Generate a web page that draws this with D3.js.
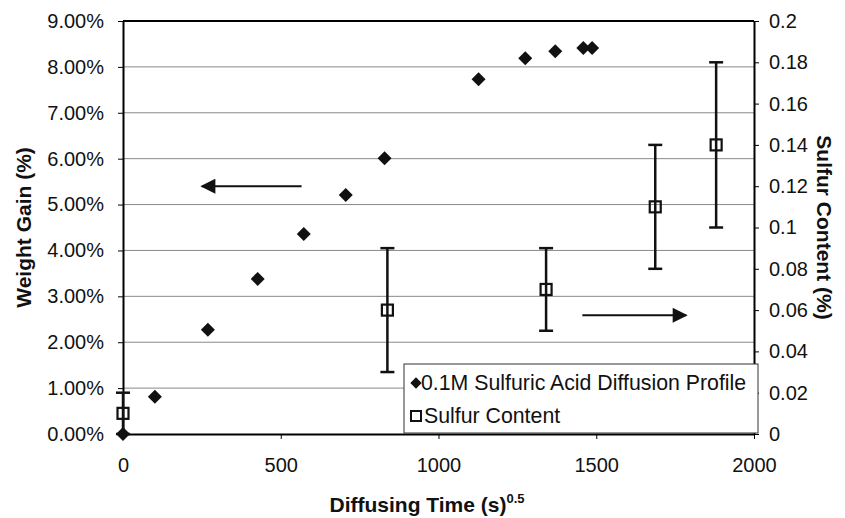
<!DOCTYPE html>
<html lang="en">
<head>
  <meta charset="UTF-8" />
  <title>Weight gain and sulfur content</title>
  <script src="https://cdn.jsdelivr.net/npm/d3@7"></script>
  <style type="text/css">
  body {
    margin: 0;
    background: #fff;
  }
  svg {
    display: block;
    font-family: "Liberation Sans", Arial, sans-serif;
  }
  .axis path.domain {
    stroke: #000;
    stroke-width: 2;
  }
  .axis .tick line {
    stroke: #000;
  }
  .axis text {
    font-size: 20px;
    fill: #111;
  }
  .grid line {
    stroke: #8a8a8a;
    stroke-width: 1;
  }
  .title {
    font-size: 21px;
    font-weight: bold;
    fill: #111;
  }
  </style>
</head>
<body>
<script type="text/javascript">

// diffusion profile (left axis, weight gain %)
var timeWeight = [0, 101, 269, 427, 573, 706, 829, 1127, 1275, 1370, 1459, 1487];
var weightGain = [0, 0.81, 2.27, 3.38, 4.36, 5.21, 6.01, 7.73, 8.19, 8.34, 8.41, 8.41];

// sulfur content (right axis) with error bars
var timeSulfur = [0, 838, 1341, 1687, 1880];
var sulfur     = [0.01, 0.06, 0.07, 0.11, 0.14];
var sulfurLow  = [0, 0.03, 0.05, 0.08, 0.10];
var sulfurHigh = [0.02, 0.09, 0.09, 0.14, 0.18];

var xTicks = [0, 500, 1000, 1500, 2000];
var leftTicks = [0, 1, 2, 3, 4, 5, 6, 7, 8, 9];
var rightTicks = [0, 0.02, 0.04, 0.06, 0.08, 0.1, 0.12, 0.14, 0.16, 0.18, 0.2];

var legendLabels = ["0.1M Sulfuric Acid Diffusion Profile", "Sulfur Content"];

var W = 845, H = 518;
var margin = {top: 21, right: 91, bottom: 84, left: 123};
var w = W - margin.left - margin.right,
    h = H - margin.top - margin.bottom;

var x = d3.scaleLinear().domain([0, 2000]).range([0, w]);
var yL = d3.scaleLinear().domain([0, 9]).range([h, 0]);
var yR = d3.scaleLinear().domain([0, 0.2]).range([h, 0]);

var svg = d3.select("body").append("svg")
    .attr("width", W)
    .attr("height", H);

var g = svg.append("g")
    .attr("transform", "translate(" + margin.left + "," + margin.top + ")");

// gridlines
g.append("g").attr("class", "grid")
  .selectAll("line")
  .data(leftTicks.slice(1))
  .enter().append("line")
    .attr("x1", 0).attr("x2", w)
    .attr("y1", d => yL(d)).attr("y2", d => yL(d));

// top border
g.append("line")
    .attr("x1", 0).attr("x2", w)
    .attr("y1", 0).attr("y2", 0)
    .attr("stroke", "#000").attr("stroke-width", 2);

// axes
g.append("g").attr("class", "axis")
    .attr("transform", "translate(0," + h + ")")
    .call(d3.axisBottom(x).tickValues(xTicks).tickSize(5).tickPadding(19).tickSizeOuter(0)
      .tickFormat(d3.format("d")))
  .selectAll("text").attr("dy", "0.71em");

g.append("g").attr("class", "axis")
    .call(d3.axisLeft(yL).tickValues(leftTicks).tickSize(5).tickPadding(14).tickSizeOuter(0)
      .tickFormat(d => d.toFixed(2) + "%"));

g.append("g").attr("class", "axis")
    .attr("transform", "translate(" + w + ",0)")
    .call(d3.axisRight(yR).tickValues(rightTicks).tickSize(5).tickPadding(10).tickSizeOuter(0)
      .tickFormat(d => String(+d.toFixed(2))));

// error bars
var errs = g.append("g").attr("stroke", "#111").attr("stroke-width", 2.5);
timeSulfur.forEach(function(t, i) {
  var cx = x(t);
  errs.append("line")
      .attr("x1", cx).attr("x2", cx)
      .attr("y1", yR(sulfurLow[i])).attr("y2", yR(sulfurHigh[i]));
  [sulfurLow[i], sulfurHigh[i]].forEach(function(v) {
    errs.append("line")
        .attr("x1", cx - 7).attr("x2", cx + 7)
        .attr("y1", yR(v)).attr("y2", yR(v));
  });
});

// sulfur squares
g.append("g").selectAll("rect")
  .data(sulfur)
  .enter().append("rect")
    .attr("x", (d, i) => x(timeSulfur[i]) - 5.5)
    .attr("y", d => yR(d) - 5.5)
    .attr("width", 11).attr("height", 11)
    .attr("fill", "none")
    .attr("stroke", "#111")
    .attr("stroke-width", 2.2);

// diamonds
var diamond = d3.symbol().type(d3.symbolSquare).size(98);
g.append("g").selectAll("path")
  .data(weightGain)
  .enter().append("path")
    .attr("d", diamond)
    .attr("transform", (d, i) => "translate(" + x(timeWeight[i]) + "," + yL(d) + ") rotate(45)")
    .attr("fill", "#111");

// arrows pointing at each axis
var defs = svg.append("defs");
defs.append("marker")
    .attr("id", "head")
    .attr("viewBox", "0 0 10 10")
    .attr("refX", 9).attr("refY", 5)
    .attr("markerWidth", 16).attr("markerHeight", 15)
    .attr("markerUnits", "userSpaceOnUse")
    .attr("orient", "auto")
  .append("path")
    .attr("d", "M0,0L10,5L0,10z")
    .attr("fill", "#111");

g.append("line")
    .attr("x1", x(566)).attr("x2", x(250))
    .attr("y1", yL(5.4)).attr("y2", yL(5.4))
    .attr("stroke", "#111").attr("stroke-width", 2)
    .attr("marker-end", "url(#head)");

g.append("line")
    .attr("x1", x(1456)).attr("x2", x(1785))
    .attr("y1", yR(0.0575)).attr("y2", yR(0.0575))
    .attr("stroke", "#111").attr("stroke-width", 2)
    .attr("marker-end", "url(#head)");

// legend
var lg = svg.append("g").attr("transform", "translate(404,364)");
lg.append("rect")
    .attr("width", 354).attr("height", 69)
    .attr("fill", "#fff")
    .attr("stroke", "#333").attr("stroke-width", 1);
lg.append("path")
    .attr("d", d3.symbol().type(d3.symbolSquare).size(64))
    .attr("transform", "translate(12,19) rotate(45)")
    .attr("fill", "#111");
lg.append("rect")
    .attr("x", 7).attr("y", 47).attr("width", 10).attr("height", 10)
    .attr("fill", "none").attr("stroke", "#111").attr("stroke-width", 2);
lg.selectAll("text.lbl")
  .data(legendLabels)
  .enter().append("text")
    .attr("class", "lbl")
    .attr("x", (d, i) => i === 0 ? 17 : 20)
    .attr("y", (d, i) => 26 + i * 33)
    .attr("font-size", 21.3)
    .attr("fill", "#111")
    .text(d => d);

// axis titles
svg.append("text").attr("class", "title")
    .attr("transform", "translate(31," + (margin.top + h / 2) + ") rotate(-90)")
    .attr("text-anchor", "middle")
    .text("Weight Gain (%)");

svg.append("text").attr("class", "title")
    .attr("transform", "translate(817," + (margin.top + h / 2) + ") rotate(90)")
    .attr("text-anchor", "middle")
    .text("Sulfur Content (%)");

var xt = svg.append("text").attr("class", "title")
    .attr("x", 427)
    .attr("y", 512)
    .attr("text-anchor", "middle");
xt.append("tspan").text("Diffusing Time (s)");
xt.append("tspan").attr("dy", -9).attr("font-size", 13).text("0.5");

</script>
</body>
</html>
